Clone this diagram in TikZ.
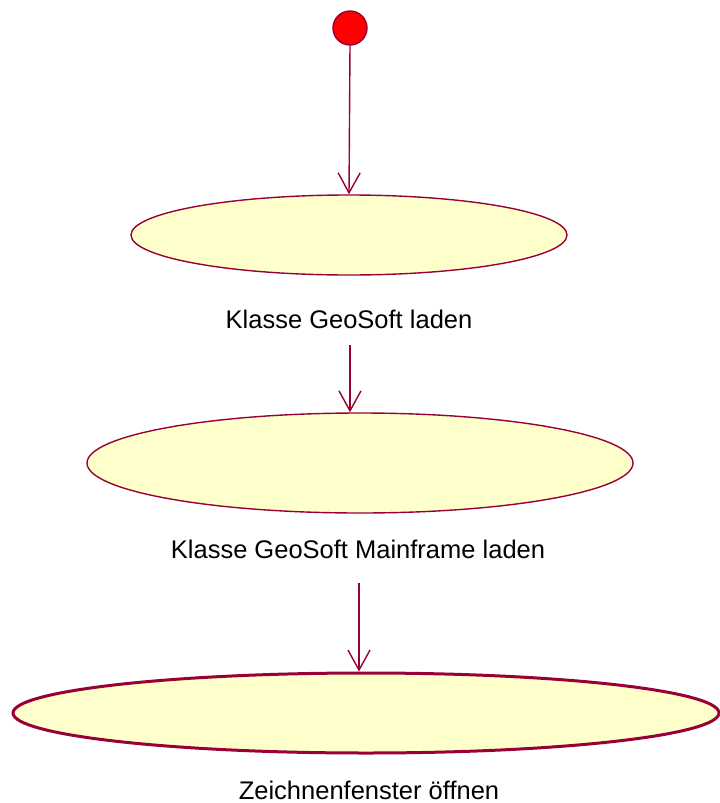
\documentclass[tikz,border=0pt]{standalone}
\usepackage{fontspec}
\setmainfont{Liberation Sans}
\usetikzlibrary{arrows.meta,shapes.geometric}
\definecolor{umlline}{HTML}{990033}
\definecolor{umlfill}{HTML}{FFFFCC}
\begin{document}
\begin{tikzpicture}[x=1pt,y=-1pt,
  state/.style={ellipse,draw=umlline,fill=umlfill,line width=1.4pt,inner sep=0pt},
  startnode/.style={circle,draw=umlline,fill=red,line width=1.4pt,minimum size=34pt,inner sep=0pt},
  lbl/.style={font=\fontsize{25.5}{30}\selectfont,inner sep=0pt},
  flow/.style={draw=umlline,line width=1.4pt,-{Straight Barb[length=20pt,width=22pt,line width=1.4pt]}}]
\useasboundingbox (0,0) rectangle (720,803);
\node[startnode] (start) at (350,28) {};
\node[state,minimum width=436pt,minimum height=80pt] (s1) at (349,235) {};
\node[lbl] (l1) at (349,319) {Klasse GeoSoft laden};
\node[state,minimum width=546pt,minimum height=100pt] (s2) at (360,463) {};
\node[lbl] (l2) at (358,549) {Klasse GeoSoft Mainframe laden};
\node[state,line width=3pt,minimum width=706pt,minimum height=80pt] (s3) at (366,713) {};
\node[lbl] (l3) at (369,790) {Zeichnenfenster öffnen};
\coordinate (a2) at (350,345);
\coordinate (a3) at (359,583);
\draw[flow] (start.south) -- (s1.north);
\draw[flow] (a2) -- (a2 |- s2.north);
\draw[flow] (a3) -- (a3 |- s3.north);
\end{tikzpicture}
\end{document}
